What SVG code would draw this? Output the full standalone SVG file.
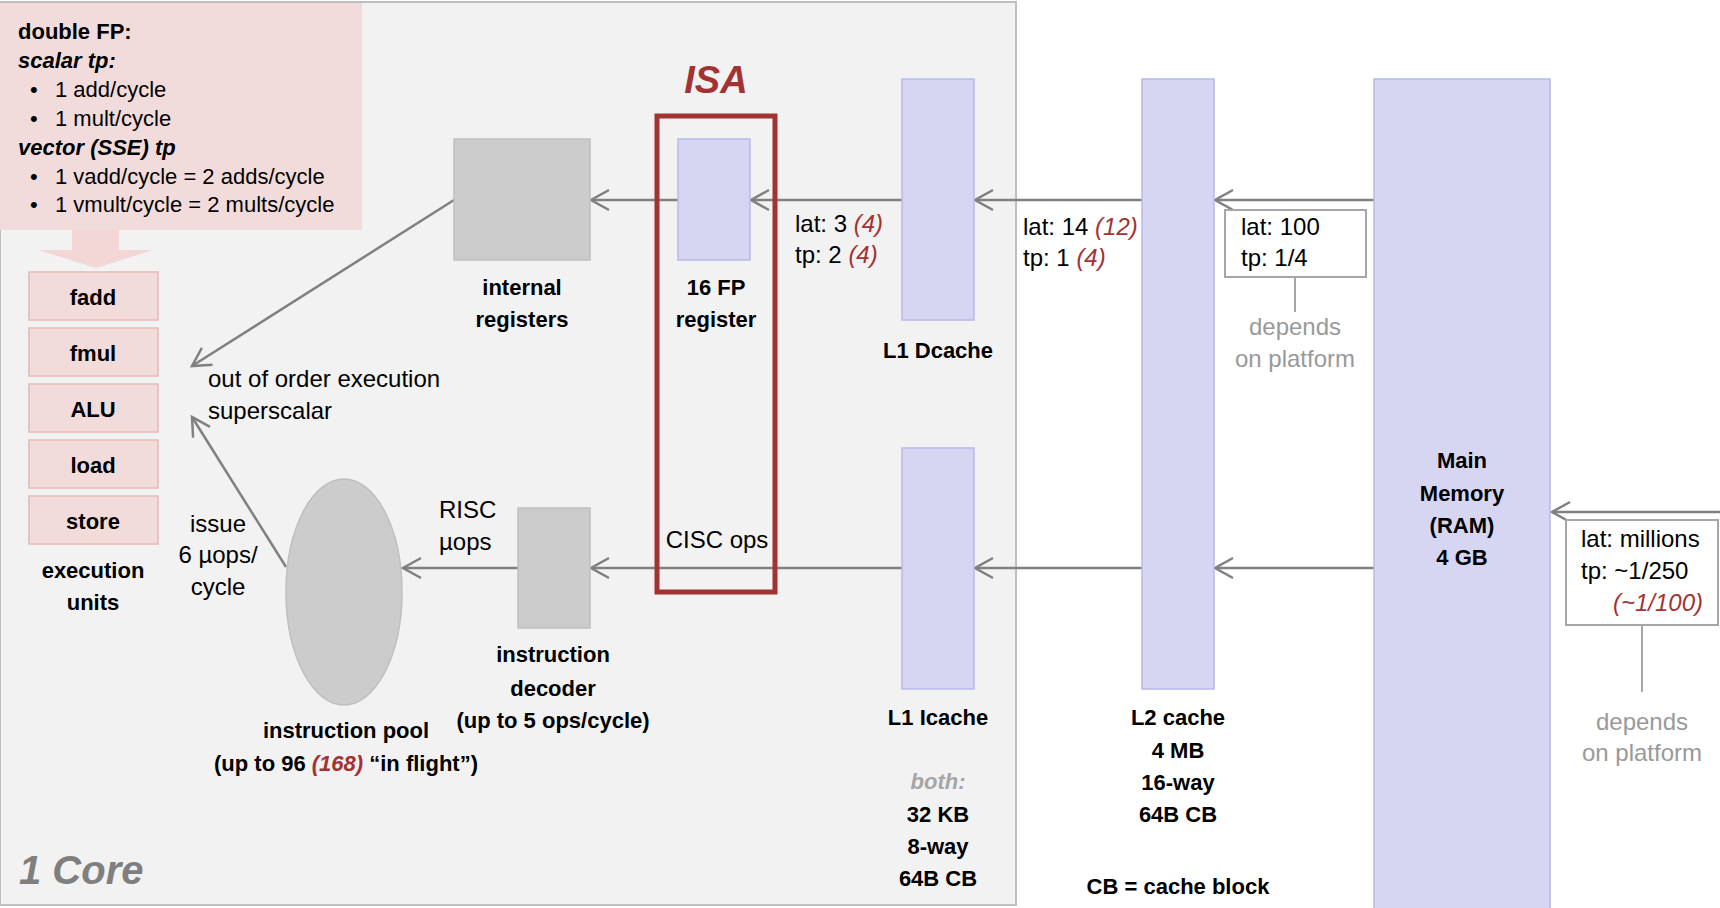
<svg xmlns="http://www.w3.org/2000/svg" width="1720" height="908" viewBox="0 0 1720 908">
<style>
text{font-family:"Liberation Sans",Arial,sans-serif;fill:#000}
.t{font-size:24px}
.p{font-size:22px}
.b{font-size:22px;font-weight:bold}
.c{text-anchor:middle}
.r{fill:#a33333;font-style:italic}
.g{fill:#999999}
.lav{fill:#d6d6f3;stroke:#b9b9ec;stroke-width:1.5}
.gry{fill:#cccccc;stroke:#bfbfbf;stroke-width:1.5}
.eu{fill:#f2dcdb;stroke:#e6b9b8;stroke-width:1.5}
.conn line{stroke:#808080;stroke-width:2.5;fill:none}
.conn line.a{marker-end:url(#arr)}
.conn line.n{stroke:#a6a6a6;stroke-width:2}
.box{fill:#fff;stroke:#a6a6a6;stroke-width:2}
</style>
<defs>
<marker id="arr" markerUnits="userSpaceOnUse" orient="auto" refX="0" refY="0" overflow="visible">
<path d="M -18 -10 L 0 0 L -18 10" fill="none" stroke="#808080" stroke-width="2.5"/>
</marker>
</defs>
<rect width="1720" height="908" fill="#ffffff"/>
<g id="core">
<rect x="0" y="2" width="1016" height="903" fill="#f2f2f2" stroke="#bfbfbf" stroke-width="2"/>
<text x="19" y="884" style="font-size:40px;font-weight:bold;font-style:italic;fill:#7f7f7f">1 Core</text>
</g>
<g id="fp-info">
<rect x="0" y="3" width="362" height="227" fill="#f2dcdb"/>
<polygon points="72,230 119,230 119,250 153,250 96,268 38,250 72,250" fill="#f2d7d6"/>
<text class="p" x="18" y="39" style="font-weight:bold">double FP:</text>
<text class="p" x="18" y="68" style="font-weight:bold;font-style:italic">scalar tp:</text>
<text class="p" x="30" y="97">•</text><text class="p" x="55" y="97">1 add/cycle</text>
<text class="p" x="30" y="126">•</text><text class="p" x="55" y="126">1 mult/cycle</text>
<text class="p" x="18" y="155" style="font-weight:bold;font-style:italic">vector (SSE) tp</text>
<text class="p" x="30" y="184">•</text><text class="p" x="55" y="184">1 vadd/cycle = 2 adds/cycle</text>
<text class="p" x="30" y="212">•</text><text class="p" x="55" y="212">1 vmult/cycle = 2 mults/cycle</text>
</g>
<g id="execution-units">
<rect class="eu" x="29" y="272" width="129" height="48"/><text class="b c" x="93" y="305">fadd</text>
<rect class="eu" x="29" y="328" width="129" height="48"/><text class="b c" x="93" y="361">fmul</text>
<rect class="eu" x="29" y="384" width="129" height="48"/><text class="b c" x="93" y="417">ALU</text>
<rect class="eu" x="29" y="440" width="129" height="48"/><text class="b c" x="93" y="473">load</text>
<rect class="eu" x="29" y="496" width="129" height="48"/><text class="b c" x="93" y="529">store</text>
<text class="b c" x="93" y="578">execution</text>
<text class="b c" x="93" y="610">units</text>
</g>
<g class="conn" id="connectors">
<line class="a" x1="902" y1="200" x2="751" y2="200"/>
<line class="a" x1="678" y1="200" x2="591" y2="200"/>
<line class="a" x1="454" y1="200" x2="192" y2="366"/>
<line class="a" x1="1142" y1="200" x2="975" y2="200"/>
<line class="a" x1="1374" y1="200" x2="1215" y2="200"/>
<line class="a" x1="1374" y1="568" x2="1215" y2="568"/>
<line class="a" x1="1142" y1="568" x2="975" y2="568"/>
<line class="a" x1="902" y1="568" x2="591" y2="568"/>
<line class="a" x1="518" y1="568" x2="403" y2="568"/>
<line class="a" x1="286" y1="567" x2="192" y2="417"/>
<line class="a" x1="1722" y1="512" x2="1552" y2="512"/>
<line class="n" x1="1295" y1="277" x2="1295" y2="312"/>
<line class="n" x1="1642" y1="625" x2="1642" y2="692"/>
</g>
<g id="exec-labels">
<text class="t" x="208" y="387">out of order execution</text>
<text class="t" x="208" y="419">superscalar</text>
<text class="t c" x="218" y="532">issue</text>
<text class="t c" x="218" y="563">6 µops/</text>
<text class="t c" x="218" y="595">cycle</text>
</g>
<g id="internal-registers">
<rect class="gry" x="454" y="139" width="136" height="121"/>
<text class="b c" x="522" y="295">internal</text>
<text class="b c" x="522" y="327">registers</text>
</g>
<g id="fp-register">
<rect class="lav" x="678" y="139" width="72" height="121"/>
<text class="b c" x="716" y="295">16 FP</text>
<text class="b c" x="716" y="327">register</text>
</g>
<g id="isa">
<rect x="657" y="116" width="118" height="476" fill="none" stroke="#a33333" stroke-width="5"/>
<text class="c" x="716" y="93" style="font-size:38px;font-weight:bold;font-style:italic;fill:#a33333">ISA</text>
<text class="t c" x="717" y="548">CISC ops</text>
</g>
<g id="instruction-decoder">
<rect class="gry" x="518" y="508" width="72" height="120"/>
<text class="t" x="439" y="518">RISC</text>
<text class="t" x="439" y="550">µops</text>
<text class="b c" x="553" y="662">instruction</text>
<text class="b c" x="553" y="696">decoder</text>
<text class="b c" x="553" y="728">(up to 5 ops/cycle)</text>
</g>
<g id="instruction-pool">
<ellipse cx="344" cy="592" rx="58" ry="113" fill="#cccccc" stroke="#bfbfbf" stroke-width="1.5"/>
<text class="b c" x="346" y="738">instruction pool</text>
<text class="b c" x="346" y="771">(up to 96 <tspan class="r">(168)</tspan> “in flight”)</text>
</g>
<g id="l1-dcache">
<rect class="lav" x="902" y="79" width="72" height="241"/>
<text class="b c" x="938" y="358">L1 Dcache</text>
<text class="t" x="795" y="232">lat: 3 <tspan class="r">(4)</tspan></text>
<text class="t" x="795" y="263">tp: 2 <tspan class="r">(4)</tspan></text>
</g>
<g id="l1-icache">
<rect class="lav" x="902" y="448" width="72" height="241"/>
<text class="b c" x="938" y="725">L1 Icache</text>
<text class="b c" x="938" y="789" style="fill:#a6a6a6;font-style:italic">both:</text>
<text class="b c" x="938" y="822">32 KB</text>
<text class="b c" x="938" y="854">8-way</text>
<text class="b c" x="938" y="886">64B CB</text>
</g>
<g id="l2-cache">
<rect class="lav" x="1142" y="79" width="72" height="610"/>
<text class="t" x="1023" y="235">lat: 14 <tspan class="r">(12)</tspan></text>
<text class="t" x="1023" y="266">tp: 1 <tspan class="r">(4)</tspan></text>
<text class="b c" x="1178" y="725">L2 cache</text>
<text class="b c" x="1178" y="758">4 MB</text>
<text class="b c" x="1178" y="790">16-way</text>
<text class="b c" x="1178" y="822">64B CB</text>
<text class="b c" x="1178" y="894">CB = cache block</text>
</g>
<g id="main-memory">
<rect class="lav" x="1374" y="79" width="176" height="835"/>
<text class="b c" x="1462" y="468">Main</text>
<text class="b c" x="1462" y="501">Memory</text>
<text class="b c" x="1462" y="533">(RAM)</text>
<text class="b c" x="1462" y="565">4 GB</text>
</g>
<g id="mem-latency">
<rect class="box" x="1225" y="210" width="141" height="67"/>
<text class="t" x="1241" y="235">lat: 100</text>
<text class="t" x="1241" y="266">tp: 1/4</text>
<text class="t c g" x="1295" y="335">depends</text>
<text class="t c g" x="1295" y="367">on platform</text>
</g>
<g id="disk-latency">
<rect class="box" x="1566" y="520" width="152" height="105"/>
<text class="t" x="1581" y="547">lat: millions</text>
<text class="t" x="1581" y="579">tp: ~1/250</text>
<text class="t r" x="1703" y="611" style="text-anchor:end">(~1/100)</text>
<text class="t c g" x="1642" y="730">depends</text>
<text class="t c g" x="1642" y="761">on platform</text>
</g>
</svg>
